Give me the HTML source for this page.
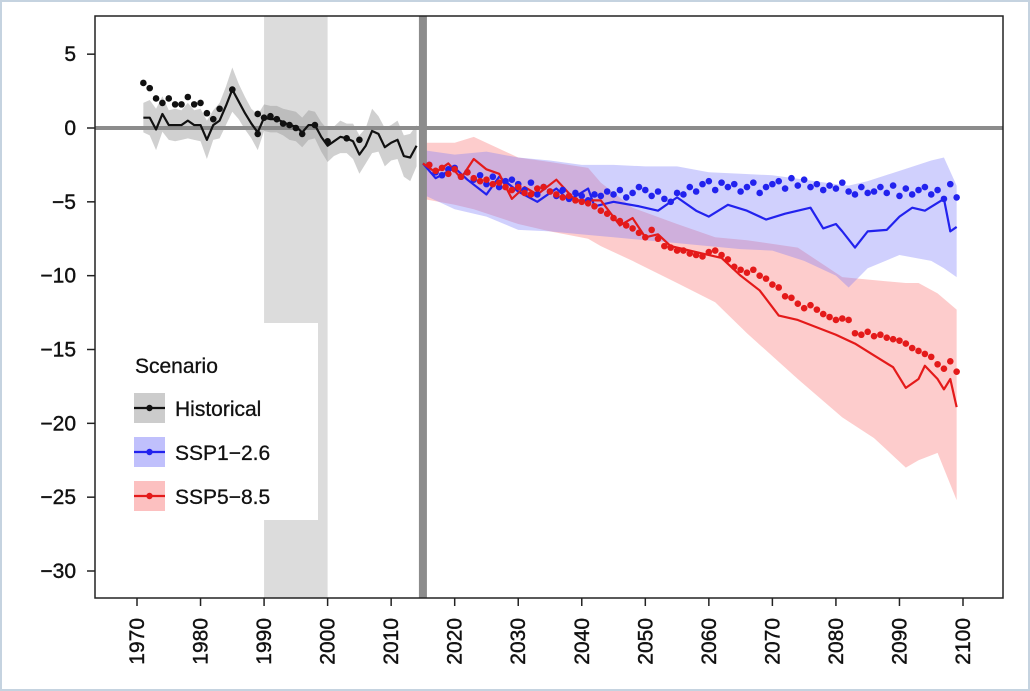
<!DOCTYPE html>
<html><head><meta charset="utf-8"><style>
html,body{margin:0;padding:0;background:#fff}
svg{display:block;font-family:"Liberation Sans",Arial,sans-serif}
</style></head><body>
<svg id="chart" width="1030" height="691" viewBox="0 0 1030 691" xmlns="http://www.w3.org/2000/svg">
<rect x="0" y="0" width="1030" height="691" fill="#fff"/>
<rect x="1" y="1" width="1028" height="689" fill="none" stroke="#c5d3e0" stroke-width="2"/>
<g id="plot"></g>
</svg>
<script>
const histYears=[1971,1972,1973,1974,1975,1976,1977,1978,1979,1980,1981,1982,1983,1984,1985,1986,1987,1988,1989,1990,1991,1992,1993,1994,1995,1996,1997,1998,1999,2000,2001,2002,2003,2004,2005,2006,2007,2008,2009,2010,2011,2012,2013,2014];
const histLine=[0.7,0.7,-0.1,0.95,0.2,0.2,0.2,0.5,0.2,0.2,-0.8,0.2,0.5,1.5,2.6,1.8,1.0,0.3,-0.3,0.7,0.6,0.6,0.4,0.2,0.1,-0.3,0.2,0.2,-0.6,-1.2,-0.9,-0.6,-0.7,-0.9,-1.8,-1.2,-0.2,-0.4,-1.3,-1.0,-0.8,-1.9,-2.0,-1.2];
const histHalf=[1.0,1.2,1.4,1.2,1.0,1.1,1.0,1.2,1.0,1.1,1.3,1.0,1.2,1.3,1.5,1.2,1.1,1.0,1.2,0.9,0.9,0.9,0.9,1.0,1.0,1.0,1.0,0.9,1.0,1.1,1.0,1.1,1.0,1.2,1.3,1.2,1.5,1.2,1.3,1.2,1.3,1.4,1.6,1.4];
const histDotYears=[1971,1972,1973,1974,1975,1976,1977,1978,1979,1980,1981,1982,1983,1985,1989,1989,1990,1991,1992,1993,1994,1995,1996,1998,2000,2003,2005];
const histDots=[3.05,2.7,2.0,1.7,2.0,1.6,1.6,2.1,1.6,1.7,1.0,0.6,1.3,2.6,0.95,-0.4,0.7,0.8,0.6,0.3,0.2,0.0,-0.4,0.2,-0.9,-0.7,-0.8];
const ssp1Dots=[-2.5,-3.0,-3.2,-2.8,-2.7,-3.3,-3.0,-3.5,-3.2,-3.8,-3.3,-4.0,-3.6,-3.5,-3.8,-4.2,-3.7,-4.5,-4.0,-4.3,-4.6,-4.2,-4.8,-4.4,-4.6,-4.9,-4.5,-4.6,-4.3,-4.5,-4.2,-4.7,-4.4,-4.0,-4.2,-4.6,-4.3,-4.8,-5.0,-4.4,-4.5,-4.0,-4.3,-3.8,-3.6,-4.2,-3.7,-4.0,-3.8,-4.3,-4.0,-3.7,-4.4,-4.0,-3.8,-3.6,-4.1,-3.4,-3.9,-3.5,-4.0,-3.8,-4.2,-3.9,-4.1,-3.7,-4.3,-4.5,-4.0,-4.4,-4.3,-4.0,-4.4,-3.9,-4.6,-4.1,-4.5,-4.2,-4.0,-4.5,-4.2,-4.8,-3.8,-4.7];
const ssp1LineYears=[2015,2017,2020,2022,2025,2027,2030,2033,2036,2038,2041,2042,2045,2049,2052,2055,2058,2060,2063,2066,2069,2072,2076,2078,2080,2081,2083,2085,2088,2090,2092,2094,2097,2098,2099];
const ssp1Line=[-2.4,-3.4,-2.7,-3.5,-4.5,-3.3,-4.3,-5.0,-4.1,-4.9,-4.1,-5.3,-5.0,-5.3,-5.6,-4.7,-5.6,-6.0,-5.2,-5.6,-6.2,-5.8,-5.4,-6.8,-6.5,-7.0,-8.1,-7.0,-6.9,-6.0,-5.4,-5.6,-4.8,-7.0,-6.7];
const ssp1BandYears=[2015,2020,2025,2030,2035,2040,2045,2050,2055,2060,2065,2070,2075,2080,2082,2085,2090,2095,2097,2099];
const ssp1Hi=[-1.5,-1.8,-1.6,-2.0,-2.2,-2.5,-2.5,-2.6,-2.6,-3.0,-3.1,-3.2,-3.5,-3.8,-3.9,-3.6,-2.9,-2.2,-2.0,-3.9];
const ssp1Lo=[-4.5,-5.5,-6.0,-6.9,-7.0,-7.2,-7.4,-7.6,-7.8,-8.0,-8.2,-8.3,-9.0,-10.0,-10.8,-9.5,-8.6,-9.0,-9.5,-10.1];
const ssp5BandYears=[2015,2020,2023,2030,2035,2041,2043,2048,2055,2061,2066,2074,2081,2086,2091,2093,2096,2099];
const ssp5Hi=[-1.0,-1.0,-0.6,-2.0,-2.3,-2.7,-3.7,-5.4,-6.5,-7.4,-7.6,-8.1,-10.1,-10.3,-10.5,-10.5,-11.2,-12.3];
const ssp5Lo=[-4.8,-5.2,-5.5,-6.5,-7.0,-7.5,-8.0,-9.0,-10.5,-11.8,-13.9,-17.0,-19.6,-21.0,-23.0,-22.5,-22.0,-25.2];
const ssp5Dots=[-2.5,-2.9,-2.7,-3.1,-2.8,-3.3,-3.0,-3.4,-3.6,-3.5,-3.8,-3.7,-4.0,-4.2,-4.0,-4.4,-4.5,-4.1,-4.0,-4.3,-4.5,-4.7,-4.6,-4.9,-5.0,-5.1,-5.3,-5.6,-5.8,-6.1,-6.3,-6.6,-6.8,-7.1,-7.4,-6.9,-7.5,-8.0,-8.1,-8.3,-8.3,-8.5,-8.6,-8.7,-8.4,-8.3,-8.6,-8.9,-9.4,-9.6,-9.8,-9.6,-10.0,-10.2,-10.6,-10.8,-11.4,-11.5,-11.9,-12.2,-12.0,-12.3,-12.6,-12.8,-13.0,-12.9,-13.0,-13.9,-14.0,-13.8,-14.1,-14.0,-14.2,-14.3,-14.4,-14.6,-14.9,-15.1,-15.3,-15.5,-16.0,-16.3,-15.8,-16.5];
const ssp5LineYears=[2015,2017,2019,2021,2023,2025,2027,2029,2031,2033,2036,2039,2043,2046,2048,2050,2052,2054,2057,2059,2062,2065,2068,2071,2074,2077,2080,2083,2086,2089,2091,2093,2094,2096,2097,2098,2099];
const ssp5Line=[-2.4,-3.0,-2.4,-3.4,-2.1,-2.8,-3.1,-4.8,-4.0,-4.5,-3.5,-4.9,-4.9,-6.6,-6.1,-7.4,-7.2,-8.0,-8.3,-8.5,-8.8,-10.0,-11.0,-12.7,-13.0,-13.5,-14.0,-14.6,-15.4,-16.2,-17.6,-17.0,-16.1,-17.0,-17.7,-17.0,-18.9];
const yTicks=[5,0,-5,-10,-15,-20,-25,-30];
const xTicks=[1970,1980,1990,2000,2010,2020,2030,2040,2050,2060,2070,2080,2090,2100];

const NS='http://www.w3.org/2000/svg';
const g=document.getElementById('plot');
const X=yr=>137+(yr-1970)*(963-137)/130;
const Y=v=>128+v*(571-128)/(-30);
function mk(tag,attrs,parent){const e=document.createElementNS(NS,tag);for(const k in attrs)e.setAttribute(k,attrs[k]);(parent||g).appendChild(e);return e;}
const L=95,T=16,R=1003,B=598;

let e=mk('rect',{x:X(1990),y:T,width:X(2000)-X(1990),height:B-T,fill:'#dcdcdc'});



function band(xs,lo,hi,fill,name){
  let d='M'+xs.map((x,i)=>X(x)+','+Y(hi[i])).join('L');
  for(let i=xs.length-1;i>=0;i--)d+='L'+X(xs[i])+','+Y(lo[i]);
  const p=mk('path',{d:d+'Z',fill:fill});
  
  
}
function line(xs,vs,col,name){
  const p=mk('polyline',{points:xs.map((x,i)=>X(x)+','+Y(vs[i])).join(' '),fill:'none',stroke:col,'stroke-width':2.2,'stroke-linejoin':'round'});
  
  
}
function dots(xs,vs,col,name){
  const gg=mk('g',{fill:col});
  
  
  xs.forEach((x,i)=>{const c=mk('circle',{cx:X(x),cy:Y(vs[i]),r:3.3},gg);
    
    });
}
const fut=n=>Array.from({length:n},(_,i)=>2016+i);
band(histYears,histYears.map((y,i)=>histLine[i]-histHalf[i]),histYears.map((y,i)=>histLine[i]+histHalf[i]),'rgba(150,150,150,0.45)','historical-band');
band(ssp5BandYears,ssp5Lo,ssp5Hi,'rgba(250,120,120,0.38)','ssp585-band');
band(ssp1BandYears,ssp1Lo,ssp1Hi,'rgba(120,120,250,0.35)','ssp126-band');

e=mk('line',{x1:L,x2:R,y1:Y(0),y2:Y(0),stroke:'#8c8c8c','stroke-width':4});


e=mk('line',{x1:X(2015),x2:X(2015),y1:T,y2:B,stroke:'#8c8c8c','stroke-width':8});



line(histYears,histLine,'#111','historical-line');
dots(histDotYears,histDots,'#111','historical-dots');
line(ssp1LineYears,ssp1Line,'#2222ee','ssp126-line');
line(ssp5LineYears,ssp5Line,'#e41a1a','ssp585-line');
dots(fut(ssp1Dots.length),ssp1Dots,'#2222ee','ssp126-dots');
dots(fut(ssp5Dots.length),ssp5Dots,'#e41a1a','ssp585-dots');

e=mk('rect',{x:L,y:T,width:R-L,height:B-T,fill:'none',stroke:'#222','stroke-width':1.5});



yTicks.forEach(v=>{
  const t=mk('line',{x1:L-8,x2:L,y1:Y(v),y2:Y(v),stroke:'#222','stroke-width':1.5});
  
  
  const tx=mk('text',{x:76,y:Y(v)+7,'text-anchor':'end','font-size':21,fill:'#111',stroke:'#111','stroke-width':0.4});
  tx.textContent=v<0?'\u2212'+(-v):String(v);
  
  
});
xTicks.forEach(v=>{
  const t=mk('line',{x1:X(v),x2:X(v),y1:B,y2:B+8,stroke:'#222','stroke-width':1.5});
  
  
  const tx=mk('text',{x:0,y:0,'text-anchor':'end','font-size':21,fill:'#111',stroke:'#111','stroke-width':0.4,transform:`translate(${X(v)+7},${B+20}) rotate(-90)`});
  tx.textContent=String(v);
  
  
});

const lg=mk('g',{});


mk('rect',{x:L+1,y:323,width:222,height:197,fill:'#fff'},lg);
let tt=mk('text',{x:135,y:373,'font-size':21,fill:'#111',stroke:'#111','stroke-width':0.3},lg);
tt.textContent='Scenario';


const entries=[['Historical','rgba(170,170,170,0.6)','#111'],['SSP1\u22122.6','rgba(150,150,250,0.6)','#2222ee'],['SSP5\u22128.5','rgba(250,150,150,0.6)','#e41a1a']];
entries.forEach((en,i)=>{
  const y0=393+i*44;
  const eg=mk('g',{},lg);
  
  
  mk('rect',{x:134,y:y0,width:31,height:30,fill:en[1]},eg);
  mk('line',{x1:134,x2:165,y1:y0+15,y2:y0+15,stroke:en[2],'stroke-width':2.2},eg);
  mk('circle',{cx:149.5,cy:y0+15,r:3.2,fill:en[2]},eg);
  const t=mk('text',{x:175,y:y0+23,'font-size':21,fill:'#111',stroke:'#111','stroke-width':0.3},eg);
  t.textContent=en[0];
});
</script>
</body></html>
